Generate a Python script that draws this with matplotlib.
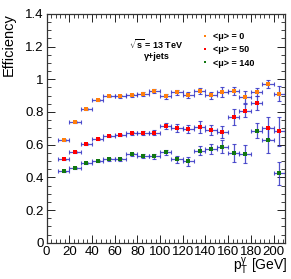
import matplotlib
matplotlib.use("Agg")
import matplotlib.pyplot as plt
from matplotlib.ticker import MultipleLocator

plt.rcParams['font.family'] = ['Liberation Sans', 'DejaVu Sans']
plt.rcParams['mathtext.fontset'] = 'custom'
plt.rcParams['mathtext.rm'] = 'Liberation Sans'
plt.rcParams['mathtext.it'] = 'Liberation Sans:italic'
plt.rcParams['mathtext.bf'] = 'Liberation Sans:bold'

# data
pt_centers = [15, 25, 35, 45, 55, 65, 75, 85, 95, 105, 115, 125, 135, 145, 155, 165, 175, 185, 195, 205]
bin_half_width = [5] * 20
eff_mu0 = [0.628, 0.737, 0.819, 0.873, 0.897, 0.896, 0.901, 0.910, 0.931, 0.897, 0.920, 0.904, 0.927, 0.901, 0.921, 0.930, 0.893, 0.923, 0.972, 0.913]
err_mu0 = [0.005, 0.005, 0.006, 0.006, 0.007, 0.008, 0.009, 0.010, 0.012, 0.016, 0.015, 0.017, 0.017, 0.020, 0.030, 0.024, 0.036, 0.025, 0.026, 0.046]
eff_mu50 = [0.510, 0.554, 0.603, 0.636, 0.655, 0.660, 0.669, 0.672, 0.673, 0.713, 0.702, 0.696, 0.710, 0.689, 0.677, 0.769, 0.809, 0.855, 0.703, 0.681]
err_mu50 = [0.005, 0.005, 0.006, 0.006, 0.007, 0.008, 0.010, 0.012, 0.015, 0.020, 0.022, 0.025, 0.036, 0.030, 0.035, 0.048, 0.040, 0.040, 0.066, 0.090]
eff_mu140 = [0.436, 0.458, 0.486, 0.502, 0.510, 0.510, 0.542, 0.531, 0.530, 0.553, 0.511, 0.498, 0.564, 0.573, 0.588, 0.548, 0.542, 0.685, 0.630, 0.425]
err_mu140 = [0.005, 0.005, 0.006, 0.006, 0.007, 0.008, 0.010, 0.012, 0.015, 0.015, 0.022, 0.026, 0.030, 0.032, 0.040, 0.055, 0.055, 0.046, 0.080, 0.070]

series_labels = ['<μ> = 0', '<μ> = 50', '<μ> = 140']
series_colors = ['#ff7f0e', '#ff0000', '#117711']

fig = plt.figure(figsize=(2.91, 2.79), dpi=100)
ax = fig.add_axes([0.160, 0.130, 0.819, 0.820])

err_color = '#3535c5'
handles = []
for eff, err, col, lab in zip([eff_mu0, eff_mu50, eff_mu140],
                              [err_mu0, err_mu50, err_mu140],
                              series_colors, series_labels):
    ax.errorbar(pt_centers, eff, yerr=err, xerr=bin_half_width, fmt='none',
                ecolor=err_color, elinewidth=0.9, capsize=1.2, capthick=0.8, alpha=0.85, zorder=2)
    h, = ax.plot(pt_centers, eff, 's', color=col, markersize=2.8, markeredgewidth=0, zorder=3, label=lab)
    handles.append(h)

ax.set_xlim(0, 210)
ax.set_ylim(0, 1.4)
ax.xaxis.set_major_locator(MultipleLocator(20))
ax.xaxis.set_minor_locator(MultipleLocator(4))
ax.yaxis.set_major_locator(MultipleLocator(0.2))
ax.yaxis.set_minor_locator(MultipleLocator(0.05))
ax.set_yticks([0, 0.2, 0.4, 0.6, 0.8, 1.0, 1.2, 1.4])
ax.set_yticklabels(['0', '0.2', '0.4', '0.6', '0.8', '1', '1.2', '1.4'])
ax.tick_params(which='both', direction='in', top=True, right=True, labelsize=9.5, pad=2, color='#222222')
ax.tick_params(which='major', length=6, width=0.7)
ax.tick_params(which='minor', length=3, width=0.6)
for s in ax.spines.values():
    s.set_linewidth(0.9)
    s.set_color('#333333')

fig.text(9 / 291, 1 - 13 / 279, 'Efficiency', rotation=90, ha='center', va='top', fontsize=10.5)
fig.text(287 / 291, 1 - 271 / 279, r'p$_\mathrm{T}^\mathrm{γ}$ [GeV]', ha='right', va='baseline', fontsize=10)

ax.text(97, 1.215, r'$\mathbf{\sqrt{s}}$ = 13 TeV', ha='center', va='center', fontsize=6.5, fontweight='bold')
ax.text(97, 1.142, 'γ+jets', ha='center', va='center', fontsize=6.5, fontweight='bold')

leg = ax.legend(handles=handles, loc='upper left', bbox_to_anchor=(0.64, 0.935), frameon=False,
                handlelength=0.6, handletextpad=0.5, labelspacing=0.45, markerscale=0.75,
                borderaxespad=0, prop={'weight': 'bold', 'size': 6.5})

fig.savefig('out.png', dpi=100)
